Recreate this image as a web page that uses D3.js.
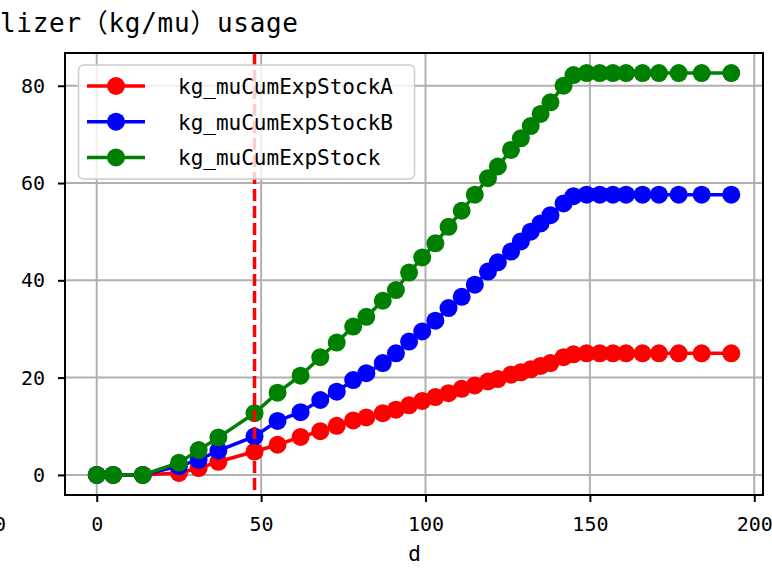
<!DOCTYPE html>
<html>
<head>
<meta charset="utf-8">
<script src="https://cdn.jsdelivr.net/npm/d3@7"></script>
<style>
  body { margin: 0; background: #fff; }
  svg { display: block; }
  text { font-family: "DejaVu Sans Mono", "Noto Sans CJK SC", monospace; fill: #000; }
</style>
</head>
<body>
<div id="chart"></div>
<script>
const days = [0, 5, 14, 25, 31, 37, 48, 55, 62, 68, 73, 78, 82, 87, 91, 95, 99, 103, 107, 111,
  115, 119, 122, 126, 129, 132, 135, 138, 142, 145, 149, 153, 157, 161, 166, 171, 177, 184, 193];
const stockA = [0, 0, 0, 0.4, 1.4, 2.7, 4.8, 6.2, 7.8, 9.0, 10.1, 11.2, 11.8, 12.7, 13.4, 14.3, 15.2, 16.0, 16.8, 17.7,
  18.4, 19.2, 19.7, 20.6, 21.1, 21.7, 22.4, 23.0, 24.2, 24.8, 25.0, 25.0, 25.0, 25.0, 25.0, 25.0, 25.0, 25.0, 25.0];
const stockB = [0, 0, 0, 1.8, 3.1, 5.0, 7.9, 11.1, 12.9, 15.4, 17.1, 19.5, 20.9, 23.0, 25.0, 27.4, 29.5, 31.7, 34.3, 36.6,
  39.1, 41.8, 43.7, 45.9, 48.0, 50.0, 51.7, 53.4, 55.8, 57.3, 57.6, 57.6, 57.6, 57.6, 57.6, 57.6, 57.6, 57.6, 57.6];
const stockAll = [0, 0, 0, 2.5, 5.1, 7.7, 12.7, 16.9, 20.4, 24.2, 27.2, 30.5, 32.5, 35.8, 38.0, 41.6, 44.7, 47.6, 51.0, 54.3,
  57.6, 61.0, 63.4, 66.8, 69.2, 71.7, 74.2, 76.6, 80.0, 82.2, 82.6, 82.6, 82.6, 82.6, 82.6, 82.6, 82.6, 82.6, 82.6];
const seriesNames = ["kg_muCumExpStockA", "kg_muCumExpStockB", "kg_muCumExpStock"];
const seriesColors = ["#ff0000", "#0000ff", "#008000"];
const xTicks = [0, 50, 100, 150, 200];
const yTicks = [0, 20, 40, 60, 80];
const markerDay = 48;

const width = 772;
const height = 568;
const plotLeft = 65, plotRight = 763, plotTop = 53, plotBottom = 495;

const svg = d3.select("#chart").append("svg")
  .attr("width", width)
  .attr("height", height);

const x = d3.scaleLinear().domain([-9.65, 202.65]).range([plotLeft, plotRight]);
const y = d3.scaleLinear().domain([-4.13, 86.73]).range([plotBottom, plotTop]);

// grid
svg.append("g").selectAll("line").data(xTicks).join("line")
  .attr("x1", d => x(d)).attr("x2", d => x(d))
  .attr("y1", plotTop).attr("y2", plotBottom)
  .attr("stroke", "#b0b0b0").attr("stroke-width", 2);
svg.append("g").selectAll("line").data(yTicks).join("line")
  .attr("x1", plotLeft).attr("x2", plotRight)
  .attr("y1", d => y(d)).attr("y2", d => y(d))
  .attr("stroke", "#b0b0b0").attr("stroke-width", 2);

// series
const allSeries = [stockA, stockB, stockAll];
const line = d3.line().x((d, i) => x(days[i])).y(d => y(d));
allSeries.forEach((vals, k) => {
  const g = svg.append("g");
  g.append("path")
    .datum(vals)
    .attr("fill", "none")
    .attr("stroke", seriesColors[k])
    .attr("stroke-width", 3.5)
    .attr("d", line);
  g.selectAll("circle").data(vals).join("circle")
    .attr("cx", (d, i) => x(days[i]))
    .attr("cy", d => y(d))
    .attr("r", 9)
    .attr("fill", seriesColors[k]);
});

// vertical dashed line
svg.append("line")
  .attr("x1", x(markerDay)).attr("x2", x(markerDay))
  .attr("y1", plotTop).attr("y2", plotBottom)
  .attr("stroke", "#ff0000").attr("stroke-width", 3.5)
  .attr("stroke-dasharray", "12,5");

// frame
svg.append("rect")
  .attr("x", plotLeft).attr("y", plotTop)
  .attr("width", plotRight - plotLeft).attr("height", plotBottom - plotTop)
  .attr("fill", "none").attr("stroke", "#000").attr("stroke-width", 2);

// axes
const xAxis = svg.append("g")
  .attr("transform", `translate(0,${plotBottom})`)
  .call(d3.axisBottom(x).tickValues(xTicks).tickSize(7).tickPadding(15).tickFormat(d3.format("d")));
const yAxis = svg.append("g")
  .attr("transform", `translate(${plotLeft},0)`)
  .call(d3.axisLeft(y).tickValues(yTicks).tickSize(7).tickPadding(13).tickFormat(d3.format("d")));
[xAxis, yAxis].forEach(a => {
  a.select(".domain").remove();
  a.selectAll(".tick line").attr("stroke", "#000").attr("stroke-width", 2);
  a.selectAll(".tick text").style("font-size", "20px").style("font-family", "DejaVu Sans Mono");
});

// clipped label of the neighbouring panel
svg.append("text")
  .attr("x", 6).attr("y", 531)
  .attr("text-anchor", "end")
  .style("font-size", "20px")
  .text("200");

svg.append("text")
  .attr("x", x(100) - 11).attr("y", 561)
  .attr("text-anchor", "middle")
  .style("font-size", "21px")
  .text("d");

svg.append("text")
  .attr("x", 0).attr("y", 32)
  .attr("textLength", 298)
  .attr("lengthAdjust", "spacing")
  .style("font-size", "26px")
  .text("lizer（kg/mu）usage");

// legend
const lg = svg.append("g");
lg.append("rect")
  .attr("x", 78.5).attr("y", 65)
  .attr("width", 336).attr("height", 114)
  .attr("rx", 5)
  .attr("fill", "#fff").attr("fill-opacity", 0.8)
  .attr("stroke", "#cccccc").attr("stroke-width", 1.5);
seriesNames.forEach((name, k) => {
  const ry = 86 + k * 35.7;
  lg.append("line")
    .attr("x1", 87).attr("x2", 145)
    .attr("y1", ry).attr("y2", ry)
    .attr("stroke", seriesColors[k]).attr("stroke-width", 3.5);
  lg.append("circle")
    .attr("cx", 116).attr("cy", ry).attr("r", 9)
    .attr("fill", seriesColors[k]);
  lg.append("text")
    .attr("x", 178).attr("y", ry + 8)
    .style("font-size", "21px")
    .text(name);
});
</script>
</body>
</html>
